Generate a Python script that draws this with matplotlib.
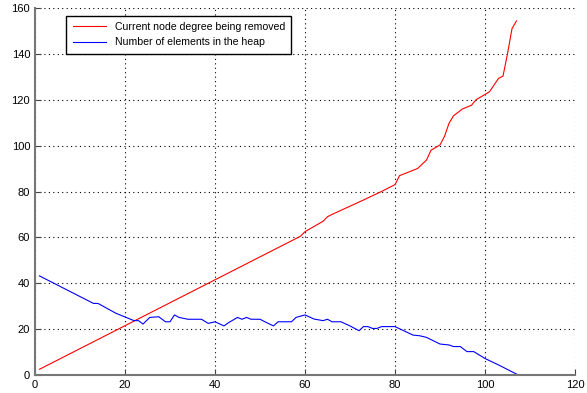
import matplotlib
matplotlib.use("Agg")
import matplotlib.pyplot as plt

# red: current node degree being removed
degree_x = [1, 59, 60, 64, 65, 66, 73, 77, 80, 81, 85, 87, 88, 90, 91, 92, 93,
            95, 97, 98, 100, 101, 103, 104, 105, 106, 107]
degree_y = [2.5, 60.5, 62.5, 67, 69, 70, 76.3, 80, 83, 86.9, 90, 93.7, 98, 100.3,
            104, 109.7, 113, 116, 117.6, 120, 122.3, 123.5, 129.3, 130.3, 140, 151, 154.4]

# blue: number of elements in the heap
heap_x = [1, 13, 14, 18, 22, 23, 24, 25.5, 27.5, 29, 30, 31, 32, 34, 37, 38.5, 40,
          42, 43, 45, 46, 47, 48, 50, 51.5, 53, 54, 57, 58, 60, 62, 64, 65, 66, 68,
          70, 72, 73, 74, 75, 76, 77, 80, 84, 85.5, 87, 90, 92, 93, 94.5, 96, 97.5,
          100, 103, 107]
heap_y = [43.2, 31.2, 31.2, 26.9, 23.7, 23.7, 22.2, 25.1, 25.4, 23.2, 23.2, 26.2,
          25.1, 24.3, 24.3, 22.5, 23.2, 21.4, 22.8, 25.1, 24.3, 25.1, 24.3, 24.3,
          22.8, 21.4, 23.2, 23.2, 25.1, 26.2, 24.4, 23.7, 24.3, 23.2, 23.2, 21.4,
          19.3, 21.1, 21.1, 20.3, 20.3, 21.1, 21.1, 17.4, 17.1, 16.4, 13.5, 13.1,
          12.4, 12.4, 10.2, 10.2, 7.2, 4.4, 0.4]

x_ticks = [0, 20, 40, 60, 80, 100, 120]
y_ticks = [0, 20, 40, 60, 80, 100, 120, 140, 160]

plt.rcParams["font.family"] = ["Liberation Sans", "DejaVu Sans"]

fig = plt.figure(figsize=(5.87, 3.93), dpi=100)
ax = fig.add_axes([35 / 587, 18 / 393, 540 / 587, 367 / 393])

ax.plot(degree_x, degree_y, color="red", linewidth=0.8, label="Current node degree being removed")
ax.plot(heap_x, heap_y, color="blue", linewidth=0.8, label="Number of elements in the heap")

ax.set_xlim(0, 120)
ax.set_ylim(0, 160)
ax.set_xticks(x_ticks)
ax.set_yticks(y_ticks)

# matlab look: dotted grid, inward ticks, only left/bottom axis lines
ax.grid(color="black", linestyle=(0, (1, 3)), linewidth=0.8)
for side in ["top", "right"]:
    ax.spines[side].set_visible(False)
for side in ["left", "bottom"]:
    ax.spines[side].set_color("#777777")
    ax.spines[side].set_linewidth(1.5)
ax.tick_params(direction="in", length=4, labelsize=8, color="#444444")

ax.legend(loc="upper left", bbox_to_anchor=(0.048, 0.993), fontsize=7.6,
          fancybox=False, edgecolor="black", framealpha=1, handlelength=3.2,
          borderpad=0.6, labelspacing=0.5)

fig.savefig("out.png", dpi=100)
